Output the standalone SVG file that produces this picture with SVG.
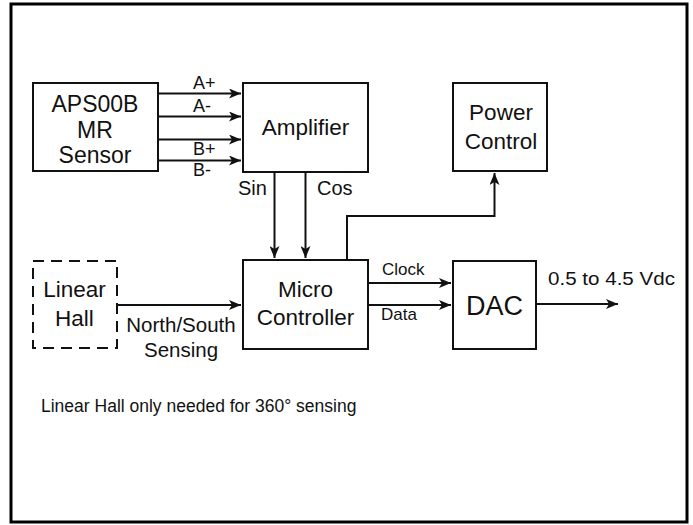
<svg xmlns="http://www.w3.org/2000/svg" width="693" height="525" viewBox="0 0 693 525">
<style>
text{font-family:"Liberation Sans",Arial,sans-serif;fill:#111}
.box{fill:#fff;stroke:#111;stroke-width:2}
.dash{fill:none;stroke:#111;stroke-width:2;stroke-dasharray:11,7}
.ln{fill:none;stroke:#111;stroke-width:2}
.big{font-size:22.5px;text-anchor:middle}
.sm{font-size:17px}
</style>
<defs>
<marker id="ah" viewBox="0 0 12 10" refX="12" refY="5" markerWidth="12" markerHeight="10" markerUnits="userSpaceOnUse" orient="auto">
<path d="M0,0 L12,5 L0,10 L3,5 Z" fill="#111"/>
</marker>
</defs>
<rect x="11" y="4" width="676" height="518" fill="#fff" stroke="#000" stroke-width="3"/>
<g id="connectors">
<line class="ln" x1="158" y1="93.5" x2="241" y2="93.5" marker-end="url(#ah)"/>
<line class="ln" x1="158" y1="116.5" x2="241" y2="116.5" marker-end="url(#ah)"/>
<line class="ln" x1="158" y1="139.5" x2="241" y2="139.5" marker-end="url(#ah)"/>
<line class="ln" x1="158" y1="160.5" x2="241" y2="160.5" marker-end="url(#ah)"/>
<text x="193" y="89" style="font-size:18px">A+</text>
<text x="193" y="112" style="font-size:18px">A-</text>
<text x="193" y="155" style="font-size:18px">B+</text>
<text x="193" y="176" style="font-size:18px">B-</text>
<line class="ln" x1="274.5" y1="172" x2="274.5" y2="258" marker-end="url(#ah)"/>
<line class="ln" x1="305.5" y1="172" x2="305.5" y2="258" marker-end="url(#ah)"/>
<text x="238" y="195" style="font-size:20px">Sin</text>
<text x="317" y="195" style="font-size:20px">Cos</text>
<polyline class="ln" points="347,260 347,216 494.5,216 494.5,173" marker-end="url(#ah)"/>
<line class="ln" x1="118" y1="305" x2="241" y2="305" marker-end="url(#ah)"/>
<text x="181" y="332" style="font-size:20.5px;text-anchor:middle">North/South</text>
<text x="181" y="357" style="font-size:20.5px;text-anchor:middle">Sensing</text>
<line class="ln" x1="368" y1="283" x2="451" y2="283" marker-end="url(#ah)"/>
<line class="ln" x1="368" y1="305" x2="451" y2="305" marker-end="url(#ah)"/>
<text x="382" y="275" class="sm">Clock</text>
<text x="381" y="320" class="sm">Data</text>
<line class="ln" x1="536" y1="304" x2="618" y2="304" marker-end="url(#ah)"/>
<text x="548" y="285" style="font-size:19px" textLength="127" lengthAdjust="spacingAndGlyphs">0.5 to 4.5 Vdc</text>
</g>
<g id="aps00b">
<rect class="box" x="33" y="83" width="125" height="88"/>
<text class="big" x="95" y="112" style="font-size:23px">APS00B</text>
<text class="big" x="95" y="138" style="font-size:23px">MR</text>
<text class="big" x="95" y="163" style="font-size:23px">Sensor</text>
</g>
<g id="amplifier">
<rect class="box" x="243" y="83" width="125" height="89"/>
<text class="big" x="305.5" y="134.5">Amplifier</text>
</g>
<g id="power">
<rect class="box" x="453" y="83" width="94" height="88"/>
<text class="big" x="501" y="120">Power</text>
<text class="big" x="501" y="148.5">Control</text>
</g>
<g id="linearhall">
<rect class="dash" x="33" y="261" width="84" height="87"/>
<text class="big" x="74.5" y="297">Linear</text>
<text class="big" x="74.5" y="326">Hall</text>
</g>
<g id="micro">
<rect class="box" x="243" y="260" width="125" height="89"/>
<text class="big" x="305.5" y="297">Micro</text>
<text class="big" x="305.5" y="325">Controller</text>
</g>
<g id="dac">
<rect class="box" x="453" y="261" width="83" height="88"/>
<text class="big" x="494.5" y="315" style="font-size:27px">DAC</text>
</g>
<text x="41" y="412" style="font-size:17.5px">Linear Hall only needed for 360° sensing</text>
</svg>
